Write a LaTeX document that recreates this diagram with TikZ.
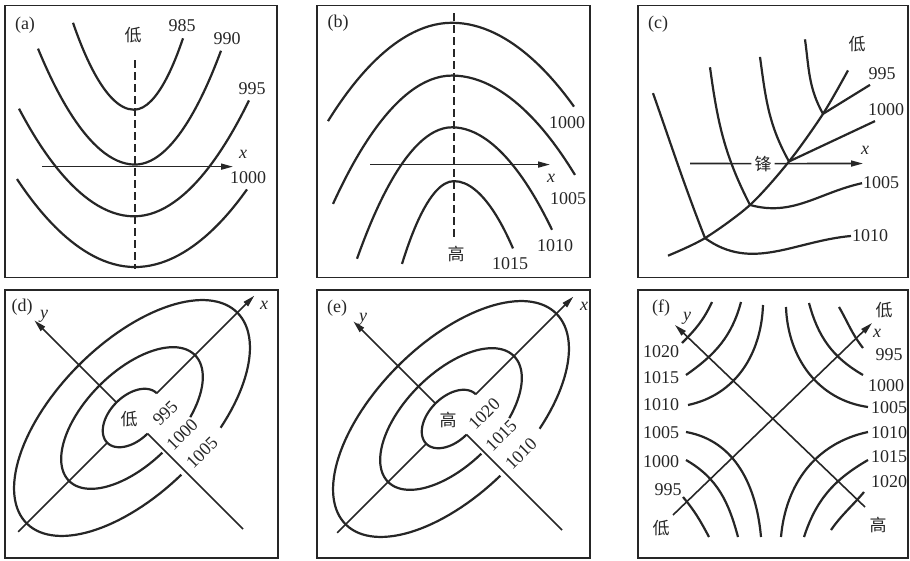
\documentclass[tikz,border=0pt]{standalone}
\usepackage{fontspec}
\setmainfont{Liberation Serif}
\newfontfamily\cjk{Noto Sans CJK SC}
\usetikzlibrary{arrows.meta}
\tikzset{
  panel/.style={line width=1.3pt, draw=black!85},
  isobar/.style={line width=2.2pt, draw=black!85},
  xarrow/.style={line width=1.6pt, draw=black!85, -{Triangle[length=12pt,width=6pt]}},
  plain axis/.style={line width=1.6pt, draw=black!85},
  trough/.style={line width=2.2pt, draw=black!85, dash pattern=on 8pt off 4pt},
  val/.style={font=\fontsize{18}{20}\selectfont, text=black!85, inner sep=0pt},
  zh/.style={font=\cjk\fontsize{17}{19}\selectfont, text=black!85, inner sep=0pt},
}

\begin{document}
\begin{tikzpicture}[x=1pt, y=-1pt]
    \useasboundingbox (0,0) rectangle (910,560);

    % top row
    \begin{scope}[yscale=1.035]
    % (a) low trough
    \draw[panel] (5,5) rectangle (277,268);
    \node[val] (a-tag) at (25,24) {(a)};
    \draw[trough] (135,58) -- (135,260);
    \draw[xarrow] (42,161) -- (233,161);
    \draw[isobar] (73,22)  parabola bend (134,106) (183,37);
    \draw[isobar] (38,47)  parabola bend (135,159) (221,49);
    \draw[isobar] (19,105) parabola bend (134,209) (249,97);
    \draw[isobar] (17,173) parabola bend (135,258) (247,183);
    \node[zh] (a-low) at (133,34) {低};
    \node[val] (a-x) at (243,149) {\textit{x}};
    \foreach \v/\px/\py in {985/182/25, 990/227/37, 995/252/86, 1000/248/172}
        \node[val] (a-\v) at (\px,\py) {\v};

    % (b) high ridge
    \draw[panel] (317,5) rectangle (590,268);
    \node[val] (b-tag) at (338,22) {(b)};
    \draw[trough] (454,13) -- (454,230);
    \draw[xarrow] (370,159) -- (550,159);
    \draw[isobar] (328,117) parabola bend (452,22)  (574,103);
    \draw[isobar] (333,197) parabola bend (452,73)  (575,169);
    \draw[isobar] (357,250) parabola bend (452,123) (552,222);
    \draw[isobar] (402,255) parabola bend (454,175) (513,240);
    \node[zh] (b-high) at (456,245) {高};
    \node[val] (b-x) at (551,172) {\textit{x}};
    \foreach \v/\px/\py in {1000/567/118, 1005/568/192, 1010/555/237, 1015/510/255}
        \node[val] (b-\v) at (\px,\py) {\v};

    % (c) front
    \draw[panel] (638,5) rectangle (908,268);
    \node[val] (c-tag) at (658,23) {(c)};
    \coordinate (f0) at (668,247);
    \coordinate (f1) at (705,230);
    \coordinate (f2) at (750,198);
    \coordinate (f3) at (789,156);
    \coordinate (f4) at (823,110);
    \coordinate (f5) at (848,68);
    \draw[isobar] plot[smooth] coordinates {(f0) (f1) (f2) (f3) (f4) (f5)};
    \draw[isobar] (653,90) to[out=-70,in=112] (f1);
    \draw[isobar] (710,65) to[out=-82,in=118] (f2);
    \draw[isobar] (760,55) to[out=-82,in=120] (f3);
    \draw[isobar] (805,38) to[out=-82,in=120] (f4);
    \draw[isobar] (f1) to[out=-35,in=-175] (851,228);
    \draw[isobar] (f2) to[out=-15,in=-168] (862,177);
    \draw[isobar] (f3) -- (875,117);
    \draw[isobar] (f4) -- (870,82);
    \node[zh, fill=white, inner sep=3pt] (c-front) at (763,158) {锋};
    \draw[plain axis] (690,158) -- (c-front);
    \draw[xarrow] (c-front) -- (863,158);
    \node[zh] (c-low) at (857,43) {低};
    \node[val] (c-x) at (865,145) {\textit{x}};
    \node[val] (c-995) at (882,71) {995};
    \node[val] (c-1000) at (886,106) {1000};
    \node[val, anchor=west] (c-1005) at (863,176) {1005};
    \node[val, anchor=west] (c-1010) at (852,228) {1010};
    \end{scope}

    % (d) low, (e) high
    \draw[panel] (5,290) rectangle (278,558);
    \draw[panel] (317,290) rectangle (590,558);
    \foreach \cx/\cy/\tag/\mid/\pa/\pb/\pc in {132/418/d/低/995/1000/1005, 451/419/e/高/1020/1015/1010}{
        \begin{scope}[shift={(\cx,\cy)}, rotate=45]
            \draw[isobar] plot[domain=90:360, samples=60] ({35*cos(\x)}, {22*sin(\x)});
            \draw[isobar] plot[domain=92:422, samples=90] ({89*cos(\x)}, {46*sin(\x)});
            \draw[isobar] plot[domain=92:428, samples=120] ({149*cos(\x)}, {75*sin(\x)});
            \draw[plain axis] (-161,0) -- (-35,0);
            \draw[xarrow] (35,0) -- (173,0);
            \draw[xarrow] (0,-22) -- (0,-138);
            \draw[plain axis] (0,22) -- (0,157);
            \node[zh] (\tag-c) at (-3,-1) {\mid};
            \node[val, rotate=45] (\tag-1) at (27,20) {\pa};
            \node[val, rotate=45] (\tag-2) at (24,47) {\pb};
            \node[val, rotate=45] (\tag-3) at (25,74) {\pc};
        \end{scope}
    }
    \node[val] (d-tag) at (22,307) {(d)};
    \node[val] (d-x) at (264,305) {\textit{x}};
    \node[val] (d-y) at (44,316) {\textit{y}};
    \node[val] (e-tag) at (337,308) {(e)};
    \node[val] (e-x) at (584,306) {\textit{x}};
    \node[val] (e-y) at (363,319) {\textit{y}};

    % (f) col
    \draw[panel] (638,290) rectangle (908,558);
    \node[val] (f-tag) at (661,308) {(f)};
    \draw[xarrow] (673,515) -- (872,323);
    \draw[xarrow] (865,507) -- (675,325);
    \node[val] (f-x) at (877,333) {\textit{x}};
    \node[val] (f-y) at (687,318) {\textit{y}};
    % upper left
    \draw[isobar] (682,343) to[out=45,in=-115] (712,302);
    \draw[isobar] (686,375) to[out=35,in=-105] (741,302);
    \draw[isobar] (688,405) to[out=12,in=-92] (763,305);
    % lower left
    \draw[isobar] (686,432) to[out=-10,in=95] (761,537);
    \draw[isobar] (686,460) to[out=-30,in=105] (738,537);
    \draw[isobar] (683,497) to[out=-50,in=118] (709,537);
    % upper right
    \draw[isobar] (839,307) to[out=-60,in=128] (863,348);
    \draw[isobar] (809,303) to[out=-75,in=150] (863,375);
    \draw[isobar] (786,307) to[out=-88,in=172] (868,407);
    % lower right
    \draw[isobar] (781,537) to[out=85,in=-168] (868,432);
    \draw[isobar] (804,537) to[out=72,in=-150] (868,460);
    \draw[isobar] (831,530) to[out=55,in=-130] (864,492);
    \foreach \v/\px/\py in {1020/661/352, 1015/661/378, 1010/661/405, 1005/661/433, 1000/661/462, 995/668/490}
        \node[val] (fl-\v) at (\px,\py) {\v};
    \foreach \v/\px/\py in {995/889/355, 1000/886/386, 1005/889/408, 1010/889/433, 1015/889/457, 1020/889/482}
        \node[val] (fr-\v) at (\px,\py) {\v};
    \node[zh] (f-low1) at (884,310) {低};
    \node[zh] (f-low2) at (661,528) {低};
    \node[zh] (f-high) at (878,525) {高};
\end{tikzpicture}
\end{document}
